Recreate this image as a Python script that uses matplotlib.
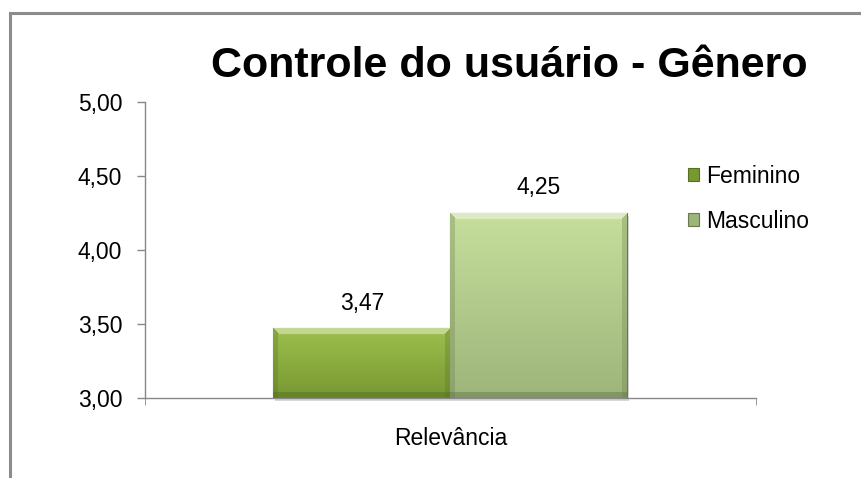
import numpy as np
import matplotlib
matplotlib.use("Agg")
import matplotlib.pyplot as plt
import matplotlib.transforms as mtransforms
from matplotlib.lines import Line2D
from matplotlib.patches import Patch, Rectangle
from matplotlib.ticker import FuncFormatter, FixedLocator

# dados
categoria = ["Relevância"]
series = ["Feminino", "Masculino"]
valores = [3.47, 4.25]
y_ticks = [3.00, 3.50, 4.00, 4.50, 5.00]
titulo = "Controle do usuário - Gênero"

# cores (topo, base, borda)
cores = {
    "Feminino": ("#9dbf4d", "#789832", "#55701f"),
    "Masculino": ("#c6df9c", "#9db57a", "#66784d"),
}

plt.rcParams["font.family"] = ["Liberation Sans", "DejaVu Sans"]

W, H = 862, 478
fig = plt.figure(figsize=(W / 100, H / 100), dpi=100)
ax = fig.add_axes([145 / W, 1 - 398 / H, 611 / W, 296 / H])

largura = 177 / 611
pos = [-largura / 2, largura / 2]


def hex2rgb(c):
    c = c.lstrip("#")
    return np.array([int(c[i:i + 2], 16) / 255 for i in (0, 2, 4)])


def gradiente(topo, base, borda, wpx, hpx):
    ny, nx = max(int(hpx), 2), max(int(wpx), 2)
    v = np.linspace(0, 1, ny)[:, None]
    t, b, e = hex2rgb(topo), hex2rgb(base), hex2rgb(borda)
    img = t[None, None, :] * (1 - v[..., None]) + b[None, None, :] * v[..., None]
    img = np.broadcast_to(img, (ny, nx, 3)).copy()
    yy = np.arange(ny)[:, None] * np.ones((1, nx))
    xx = np.ones((ny, 1)) * np.arange(nx)[None, :]
    # bisel
    topo_m = (yy < 6) & (xx > yy) & (xx < nx - yy)
    img[topo_m] = img[topo_m] * 0.6 + 0.4
    lados = ((xx < 5) | (xx > nx - 6)) & ~topo_m
    img[lados] = img[lados] * 0.7 + e * 0.3
    fundo = yy > ny - 7
    img[fundo] = img[fundo] * 0.5 + e * 0.5
    return img


# sombra das barras
sombra = mtransforms.offset_copy(ax.transData, fig=fig, x=2, y=-3, units="dots")

handles = []
for i, (nome, val) in enumerate(zip(series, valores)):
    topo, base, borda = cores[nome]
    ax.add_patch(Rectangle((pos[i] - largura / 2, 3.0), largura, val - 3.0,
                           facecolor="#c8c8c8", edgecolor="none", alpha=0.7,
                           transform=sombra, clip_on=False, zorder=1))
    barra = ax.bar(pos[i], val - 3.0, width=largura, bottom=3.0,
                   color=base, edgecolor=borda, linewidth=0.8, zorder=2)
    rect = barra[0]
    hpx = (val - 3.0) / 2.0 * 296
    img = gradiente(topo, base, borda, 177, hpx)
    x0 = pos[i] - largura / 2
    im = ax.imshow(img, extent=[x0, x0 + largura, 3.0, val], aspect="auto",
                   interpolation="bilinear", zorder=3)
    im.set_clip_path(rect)
    ax.annotate(f"{val:.2f}".replace(".", ","), xy=(pos[i], val),
                xytext=(0, 10), textcoords="offset points",
                ha="center", va="bottom", fontsize=16.5, color="#000000")
    handles.append(Patch(facecolor=base, edgecolor=borda, linewidth=0.8, label=nome))

ax.set_xlim(-0.5, 0.5)
ax.set_ylim(3.0, 5.0)
ax.set_yticks(y_ticks)
ax.yaxis.set_major_formatter(FuncFormatter(lambda v, p: f"{v:.2f}".replace(".", ",")))
ax.set_xticks([0])
ax.set_xticklabels(categoria)
ax.xaxis.set_minor_locator(FixedLocator([-0.5, 0.5]))
ax.tick_params(axis="x", which="major", length=0, pad=21, labelsize=16.5)
ax.tick_params(axis="x", which="minor", length=5, color="#888888", direction="out")
ax.tick_params(axis="y", length=5.8, color="#888888", width=1, pad=10.5, labelsize=16.5)

for s in ["top", "right"]:
    ax.spines[s].set_visible(False)
for s in ["left", "bottom"]:
    ax.spines[s].set_color("#888888")
    ax.spines[s].set_linewidth(1)
    ax.spines[s].set_zorder(4)
ax.set_facecolor("none")

fig.text(509 / W, 1 - 77 / H, titulo, ha="center", va="baseline",
         fontsize=31, fontweight="bold")

fig.legend(handles=handles, loc="upper left", bbox_to_anchor=(688 / W, 1 - 165 / H),
           frameon=False, fontsize=16.5, handlelength=0.48, handleheight=0.48,
           handletextpad=0.3, labelspacing=0.95, borderpad=0, borderaxespad=0)

# moldura externa do grafico
cinza = "#8c8c8c"
fig.add_artist(Line2D([10 / W, 10 / W], [0, 1 - 13 / H], color=cinza, linewidth=2.2,
                      transform=fig.transFigure))
fig.add_artist(Line2D([10 / W, 1], [1 - 13 / H, 1 - 13 / H], color=cinza, linewidth=2.2,
                      transform=fig.transFigure))

fig.savefig("out.png", dpi=100)
